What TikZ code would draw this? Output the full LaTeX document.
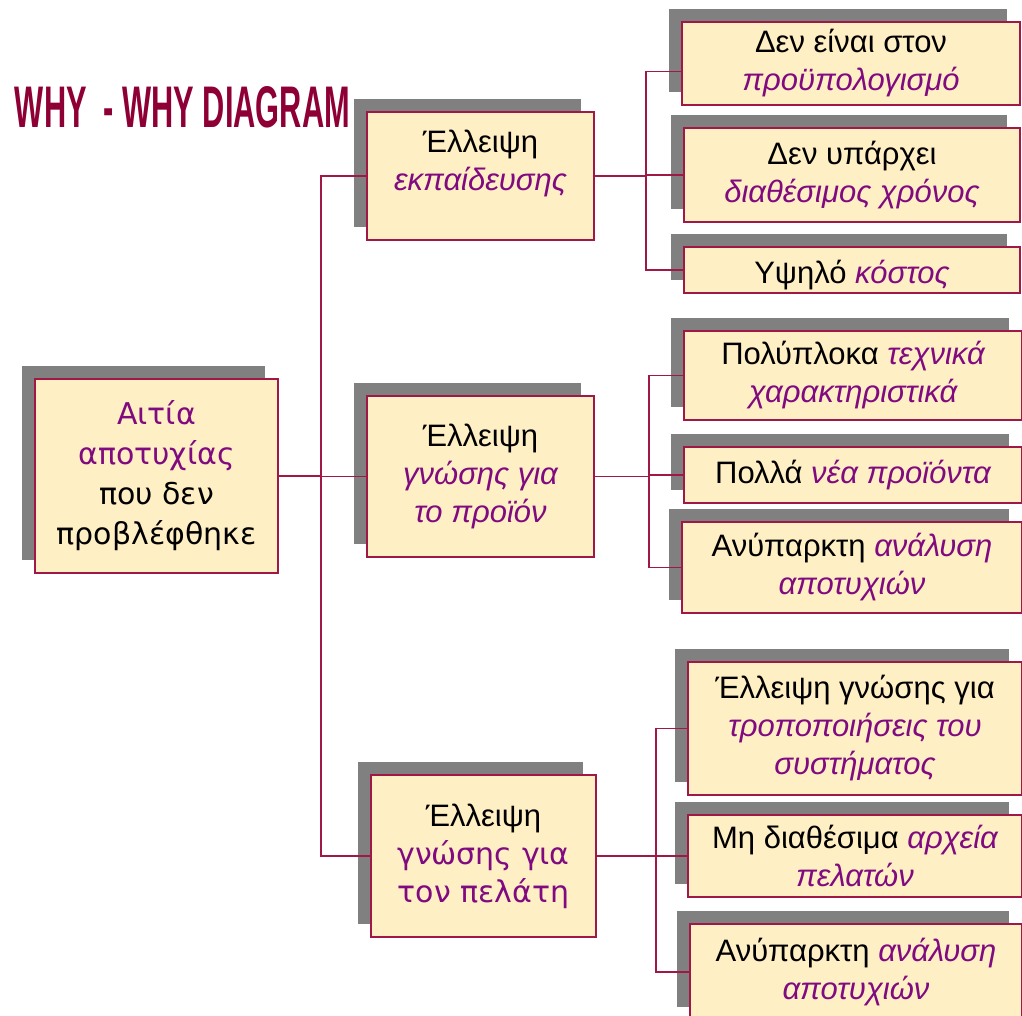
\documentclass[tikz,border=0pt]{standalone}
\usepackage{fontspec}
\setmainfont{Liberation Sans}
\newfontfamily\roundfont{DejaVu Sans}
\usepackage{tikz}
\usetikzlibrary{shadows, positioning}
\definecolor{boxfill}{HTML}{FFEFC4}
\definecolor{boxline}{HTML}{A01848}
\definecolor{keypurple}{HTML}{800A80}
\definecolor{shadowgray}{HTML}{808080}
\definecolor{titlered}{HTML}{8E0035}
\newcommand{\keyit}[1]{{\color{keypurple}\itshape #1}}
\newcommand{\keyup}[1]{{\color{keypurple}#1}}

\begin{document}
\begin{tikzpicture}[
    x=1pt, y=-1pt,
    cause/.style={draw=boxline, line width=1.8pt, fill=boxfill, rectangle, inner sep=0pt, align=center, font=\fontsize{31}{38}\selectfont, drop shadow={shadow xshift=-13pt, shadow yshift=13pt, fill=shadowgray, opacity=1}},
    round/.style={font=\roundfont\fontsize{30}{40}\selectfont},
    link/.style={draw=boxline, line width=1.8pt}
]
\useasboundingbox (0,0) rectangle (1022,1015);

\node[inner sep=0pt, text=titlered] (title) at (182.5,107.5) {\resizebox{335pt}{41pt}{\bfseries WHY\ \ - WHY DIAGRAM}};

\node[cause, round, minimum width=243pt, minimum height=194pt] (root) at (156.5,476) {\keyup{Αιτία}\\\keyup{αποτυχίας}\\που δεν\\προβλέφθηκε};

\node[cause, minimum width=227pt, minimum height=128pt, text depth=32pt] (mid1) at (480.5,176) {Έλλειψη\\\keyit{εκπαίδευσης}};
\node[cause, minimum width=227pt, minimum height=161pt] (mid2) at (480.5,476.5) {Έλλειψη\\\keyit{γνώσης για}\\\keyit{το προϊόν}};
\node[cause, minimum width=225pt, minimum height=162pt] (mid3) at (483.5,856) {Έλλειψη\\{\roundfont\fontsize{30}{40}\selectfont\keyup{γνώσης για}}\\{\roundfont\fontsize{30}{40}\selectfont\keyup{τον πελάτη}}};

\node[cause, minimum width=338pt, minimum height=83pt] (l1a) at (851,63.5) {Δεν είναι στον\\\keyit{προϋπολογισμό}};
\node[cause, minimum width=336pt, minimum height=94pt] (l1b) at (852,175) {Δεν υπάρχει\\\keyit{διαθέσιμος χρόνος}};
\node[cause, minimum width=336pt, minimum height=46pt, text height=34pt] (l1c) at (852,270) {Υψηλό \keyit{κόστος}};

\node[cause, minimum width=338pt, minimum height=89pt] (l2a) at (853,375.5) {Πολύπλοκα \keyit{τεχνικά}\\\keyit{χαρακτηριστικά}};
\node[cause, minimum width=338pt, minimum height=56pt] (l2b) at (853,475) {Πολλά \keyit{νέα προϊόντα}};
\node[cause, minimum width=340pt, minimum height=91pt] (l2c) at (852,567.5) {Ανύπαρκτη \keyit{ανάλυση}\\\keyit{αποτυχιών}};

\node[cause, minimum width=334pt, minimum height=133pt] (l3a) at (855,728.5) {Έλλειψη γνώσης για\\\keyit{τροποποιήσεις του}\\\keyit{συστήματος}};
\node[cause, minimum width=334pt, minimum height=82pt] (l3b) at (855,856) {Μη διαθέσιμα \keyit{αρχεία}\\\keyit{πελατών}};
\node[cause, minimum width=332pt, minimum height=96pt] (l3c) at (856,972) {Ανύπαρκτη \keyit{ανάλυση}\\\keyit{αποτυχιών}};

\draw[link] (root.east) -- ++(42,0) coordinate (trunk);
\draw[link] (trunk) |- (mid1.west);
\draw[link] (trunk) |- (mid2.west);
\draw[link] (trunk) |- (mid3.west);

\draw[link] (mid1.east) -- ++(51,0) coordinate (fork1);
\draw[link] (fork1) |- ([yshift=-8pt]l1a.west);
\draw[link] (fork1) |- (l1b.west);
\draw[link] (fork1) |- (l1c.west);

\draw[link] (mid2.east) -- ++(54,0) coordinate (fork2);
\draw[link] (fork2) |- (l2a.west);
\draw[link] (fork2) |- (l2b.west);
\draw[link] (fork2) |- (l2c.west);

\draw[link] (mid3.east) -- ++(59,0) coordinate (fork3);
\draw[link] (fork3) |- (l3a.west);
\draw[link] (fork3) |- (l3b.west);
\draw[link] (fork3) |- (l3c.west);
\end{tikzpicture}
\end{document}
